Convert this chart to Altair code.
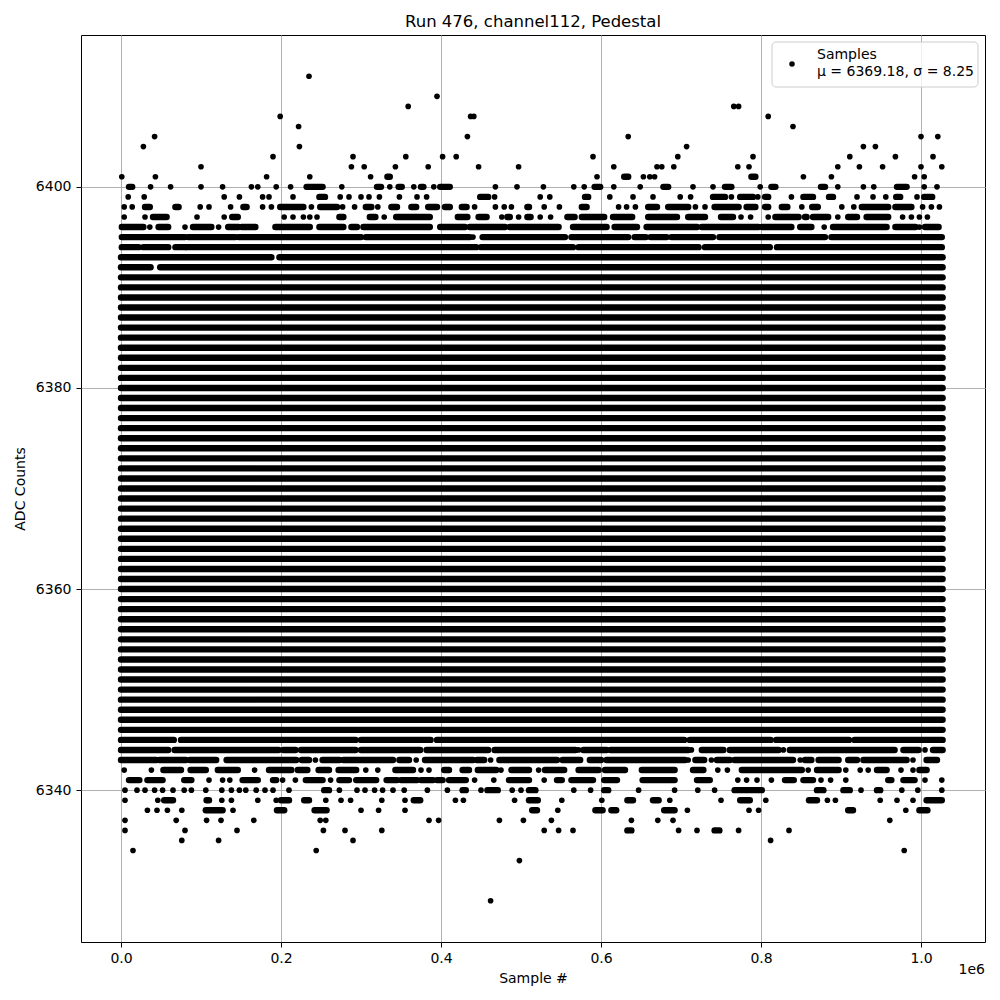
import altair as alt
import pandas as pd

# ---- data (x in thousands of samples) ----
X_START = 0
X_END = 1027

solid_levels = [6346, 6347, 6348, 6349, 6350, 6351, 6352, 6353, 6354, 6355,
                6356, 6357, 6358, 6359, 6360, 6361, 6362, 6363, 6364, 6365,
                6366, 6367, 6368, 6369, 6370, 6371, 6372, 6373, 6374, 6375,
                6376, 6377, 6378, 6379, 6380, 6381, 6382, 6383, 6384, 6385,
                6386, 6387, 6388, 6389, 6390, 6391]

# a number is one sample, a pair is a run of overlapping samples
L6411 = [235]
L6409 = [395]
L6408 = [359, 766, 772]
L6407 = [199, 437, 441, 809]
L6406 = [222, 840]
L6405 = [42, 433, 634, 1000, 1021]
L6404 = [28, 223, 707, 928, 943]
L6403 = [190, 290, 356, 402, 419, 590, 696, 790, 911, 968, 1015]
L6402 = [100, 288, 304, 343, 384, 447, 497, 616, 670, 676, 691, 771, 785,
         896, 923, 952, 1000, 1026]
L6401 = [1, 43, 182, 236, 312, (333, 336), 595, (629, 634), 653, 661, 667,
         (788, 793), 853, 888, 992, 1004]
L6400 = [(10, 14), 37, 62, 100, 127, 163, 171, 194, 212, (232, 252), 276,
         (320, 325), 336, (347, 351), 366, (375, 378), 391, (399, 411), 468,
         495, 528, 566, 579, (592, 599), 616, 649, (678, 684), 715, 740,
         (755, 763), 799, (813, 818), (875, 880), 896, 928, 941, (970, 982),
         1004, 1020]
L6399 = [9, 29, 129, 148, 177, 185, 215, (248, 255), 274, 285, 300, 310, 323,
         348, 370, 382, (449, 459), 467, 524, 536, (580, 584), 611, 640, 665,
         699, 712, (740, 755), 763, (774, 790), 796, (805, 809), 838,
         (853, 865), (885, 890), 920, 940, 956, (969, 974), 995, (1004, 1014)]
L6398 = [4, 14, (30, 36), (68, 72), 99, 110, 137, (153, 157), 177, 188,
         (199, 228), 238, (249, 270), 277, 292, (306, 313), 321, (338, 345),
         (363, 369), (384, 395), (405, 411), (426, 432), 442, 468, 479, 488,
         (508, 510), 529, 548, (576, 582), 622, 632, 643, (659, 670),
         (684, 709), 718, 730, (742, 772), (782, 793), (805, 809), (826, 833),
         851, (864, 871), 901, 916, (926, 959), (968, 988), 1002, 1013, 1023]
L6397 = [4, 30, (40, 57), 95, 129, (139, 146), 204, 215, 228, 236, 245,
         (273, 278), (311, 318), 329, (344, 386), (421, 433), (447, 457), 476,
         (483, 486), 497, (508, 512), 524, 537, (558, 567), (576, 604),
         (615, 639), (659, 695), (709, 730), (750, 765), 775, 787, 809,
         (818, 847), (855, 857), (865, 884), 896, (909, 920), (932, 959), 977,
         988, 998, 1008]
L6396 = [(1, 28), 36, (47, 59), 80, (90, 113), 122, (134, 147), (151, 168),
         (193, 236), (248, 278), (288, 295), (303, 386), (399, 430),
         (436, 480), (486, 547), (565, 607), (617, 645), (657, 720),
         (726, 797), (801, 838), (849, 863), 879, (890, 957), (968, 993), 998,
         (1005, 1022)]
L6395 = [(1, 11), (13, 80), (84, 111), (113, 143), (147, 300), (306, 436),
         440, (452, 555), (563, 634), (642, 656), (662, 682), (688, 740),
         (748, 880), (888, 1026)]
L6394 = [(1, 22), (28, 59), (68, 80), (82, 444), (450, 565), (572, 722),
         (730, 811), (820, 1026)]
L6393 = [(0, 188), (198, 1027)]
L6392 = [(0, 37), (49, 1027)]
L6345 = [(0, 66), (75, 293), (300, 387), (395, 704), (711, 812), (819, 910),
         (917, 1027)]
L6344 = [(0, 59), (67, 197), (203, 218), (225, 293), (300, 374), (382, 459),
         (467, 568), 572, (578, 607), (612, 709), 713, (726, 753), (761, 822),
         828, (836, 967), (978, 997), 1005, (1015, 1027)]
L6343 = [(0, 44), (48, 81), (86, 119), (132, 219), (226, 235), 243,
         (252, 273), (278, 340), (348, 360), 369, (380, 440), (445, 454), 462,
         (473, 545), (552, 574), (586, 600), (607, 705), 709, (718, 729), 738,
         (745, 761), (767, 840), 849, (855, 863), (872, 897), (909, 920),
         (928, 982), 990, (1007, 1020)]
L6342 = [4, 38, (53, 75), (87, 106), (121, 146), 167, (185, 213), (221, 233),
         (247, 260), (272, 294), 306, 321, (343, 365), 375, 385, (404, 410),
         (427, 435), (446, 469), 475, (488, 510), 522, (530, 554), (572, 597),
         (605, 630), (651, 692), (715, 728), 746, 758, (776, 851), 859,
         (870, 897), 906, 924, 934, (945, 957), 975, 990, (998, 1007)]
L6341 = [(10, 23), (33, 52), (79, 88), 110, 127, 136, (152, 171), (190, 194),
         202, 218, (231, 252), 262, (273, 285), (294, 319), (332, 345),
         (350, 370), (375, 390), (395, 402), (410, 431), 442, 466, (485, 510),
         529, (545, 551), (563, 590), (604, 620), (652, 692), (720, 736), 771,
         782, 795, 813, (830, 841), (853, 865), 875, 887, 906, (959, 963),
         (978, 992), 1005, 1026]
L6340 = [5, 20, 30, 42, 52, 65, 79, 88, 106, 126, 138, 148, 156, 169, 180,
         190, 210, (254, 260), 273, 295, 305, 317, 327, 340, 354, 383, 408,
         (427, 431), 450, (458, 471), 489, 500, (510, 518), 566, 587,
         (604, 609), 647, 692, 721, 742, (767, 801), (870, 878), (903, 911),
         925, (945, 949), 976, 996, 1026]
L6339 = [5, 46, (54, 65), (107, 110), 126, 138, 171, 194, (200, 210),
         (229, 235), 256, 275, 287, 326, 355, (366, 374), 418, 428, 492,
         (510, 521), 551, 601, (633, 640), (665, 672), 686, 750, (774, 786),
         806, (860, 870), 883, 893, 949, 970, 990, (1007, 1026)]
L6338 = [33, 45, 58, 76, (106, 127), 140, (195, 204), (242, 257), 300, 322,
         355, (514, 520), 546, (593, 602), (613, 619), (679, 692), 708, 785,
         797, (909, 915), 981, (998, 1008)]
L6337 = [5, 69, 107, 125, 166, 249, 256, 385, 397, 473, 503, 538, 638, 671,
         690, 961]
L6336 = [5, 80, 145, 253, 280, 326, 529, 547, 565, (633, 638), 697, 720,
         (742, 748), 772, 835]
L6335 = [76, 122, 290, 812]
L6334 = [15, 244, 979]
L6333 = [498]
L6329 = [462]

partial_rows = [
    (6411, L6411), (6409, L6409), (6408, L6408), (6407, L6407),
    (6406, L6406), (6405, L6405), (6404, L6404), (6403, L6403),
    (6402, L6402), (6401, L6401), (6400, L6400), (6399, L6399),
    (6398, L6398), (6397, L6397), (6396, L6396), (6395, L6395),
    (6394, L6394), (6393, L6393), (6392, L6392), (6345, L6345),
    (6344, L6344), (6343, L6343), (6342, L6342), (6341, L6341),
    (6340, L6340), (6339, L6339), (6338, L6338), (6337, L6337),
    (6336, L6336), (6335, L6335), (6334, L6334), (6333, L6333),
    (6329, L6329),
]

legend_title = "Samples"
legend_stats = "\u03bc = 6369.18, \u03c3 = 8.25"
chart_title = "Run 476, channel112, Pedestal"

# ---- build tables ----
runs, dots = [], []
for lvl in solid_levels:
    runs.append({"x0": X_START * 1000, "x1": X_END * 1000, "adc": lvl})
for lvl, entries in partial_rows:
    for e in entries:
        if isinstance(e, tuple):
            runs.append({"x0": e[0] * 1000, "x1": e[1] * 1000, "adc": lvl})
        else:
            dots.append({"x": e * 1000, "adc": lvl})
df_runs = pd.DataFrame(runs)
df_dots = pd.DataFrame(dots)

FONT = "DejaVu Sans"
xscale = alt.Scale(domain=[-50000, 1080000], nice=False, zero=False)
yscale = alt.Scale(domain=[6324.9, 6415.1], nice=False, zero=False)

xaxis = alt.Axis(values=[0, 200000, 400000, 600000, 800000, 1000000],
                 labelExpr="format(datum.value / 1000000, '.1f')",
                 title="Sample #", grid=True, tickSize=5, labelPadding=4,
                 titlePadding=6)
yaxis = alt.Axis(values=[6340, 6360, 6380, 6400], format="d",
                 title="ADC Counts", grid=True, tickSize=5, labelPadding=5,
                 titlePadding=8)

base_runs = alt.Chart(df_runs).mark_rule(
    strokeWidth=6.4, strokeCap="round", color="black"
).encode(
    x=alt.X("x0:Q", scale=xscale, axis=xaxis),
    x2="x1:Q",
    y=alt.Y("adc:Q", scale=yscale, axis=yaxis),
)
base_dots = alt.Chart(df_dots).mark_circle(size=32, color="black", opacity=1).encode(
    x=alt.X("x:Q", scale=xscale),
    y=alt.Y("adc:Q", scale=yscale),
)

one = pd.DataFrame({"k": [0]})
legend_box = alt.Chart(one).mark_rect(
    fill="white", fillOpacity=0.8, stroke="#cccccc", strokeWidth=1, cornerRadius=4
).encode(x=alt.value(691), x2=alt.value(897), y=alt.value(7), y2=alt.value(52))
legend_dot = alt.Chart(one).mark_circle(size=30, color="black", opacity=1).encode(
    x=alt.value(711), y=alt.value(29))
legend_t1 = alt.Chart(one).mark_text(
    text=legend_title, align="left", baseline="middle", font=FONT, fontSize=14,
    color="black").encode(x=alt.value(736), y=alt.value(20))
legend_t2 = alt.Chart(one).mark_text(
    text=legend_stats, align="left", baseline="middle", font=FONT, fontSize=14,
    color="black").encode(x=alt.value(736), y=alt.value(37))
offset_txt = alt.Chart(one).mark_text(
    text="1e6", align="right", baseline="middle", font=FONT, fontSize=14,
    color="black").encode(x=alt.value(904), y=alt.value(935))

chart = alt.layer(
    base_runs, base_dots, legend_box, legend_dot, legend_t1, legend_t2, offset_txt
).properties(
    width=904, height=907,
    title=alt.TitleParams(chart_title, font=FONT, fontSize=16.5, fontWeight="normal",
                          color="black", offset=5, anchor="middle"),
    autosize=alt.AutoSizeParams(type="none"),
    padding={"left": 73, "top": 27, "right": 5, "bottom": 50},
).configure_view(
    stroke="black", strokeWidth=1
).configure_axis(
    domain=False, gridColor="#b0b0b0", gridWidth=1, tickColor="black",
    tickWidth=1, labelFont=FONT, labelFontSize=14, labelColor="black",
    titleFont=FONT, titleFontSize=14, titleColor="black", titleFontWeight="normal",
)

chart.save("out.html", embed_options={"renderer": "svg", "actions": False})
